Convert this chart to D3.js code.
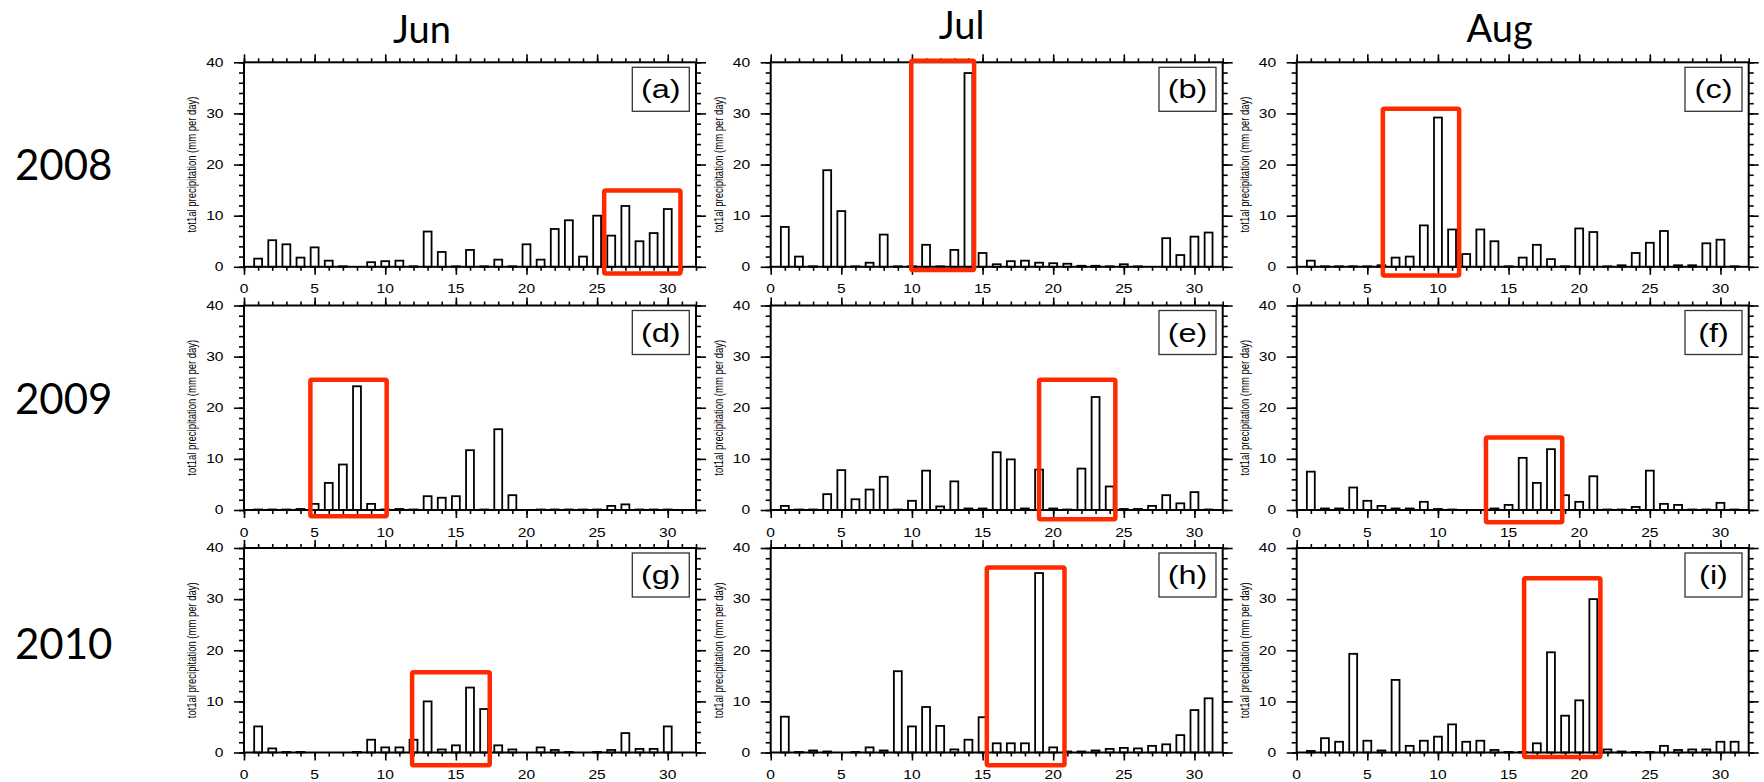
<!DOCTYPE html>
<html>
<head>
<meta charset="utf-8">
<script src="https://cdn.jsdelivr.net/npm/d3@7"></script>
<style>
  body { margin: 0; background: #fff; }
  .tick line { stroke: #000; }
</style>
</head>
<body>
<script>
var svgWidth = 1764;
var svgHeight = 782;

// column / row labels
var months = ["Jun", "Jul", "Aug"];
var years = ["2008", "2009", "2010"];
var tags = ["(a)", "(b)", "(c)", "(d)", "(e)", "(f)", "(g)", "(h)", "(i)"];
var yTitle = "tot1al precipitation (mm per day)";
var xTicks = [0, 5, 10, 15, 20, 25, 30];
var yTicks = [0, 10, 20, 30, 40];

// daily precipitation, mm per day (day 1 first)
var jun2008 = [1.6,5.2,4.4,1.8,3.8,1.2,0.1,0,0.9,1.1,1.2,0.1,6.9,2.9,0.1,3.3,0.1,1.4,0.1,4.4,1.4,7.4,9.1,2.0,10.0,6.1,11.9,5.0,6.6,11.3];
var jul2008 = [7.8,2.0,0.1,18.9,10.9,0.1,0.8,6.3,0.1,0.1,4.3,0.1,3.3,37.9,2.7,0.5,1.1,1.2,0.8,0.7,0.6,0.2,0.2,0.1,0.5,0.1,0,5.6,2.3,5.9,6.7];
var aug2008 = [1.2,0.1,0.1,0.1,0.1,0.3,1.8,2.0,8.1,29.2,7.3,2.5,7.3,5.0,0.1,1.8,4.3,1.5,0.1,7.5,6.8,0.1,0.3,2.7,4.7,7.0,0.3,0.3,4.6,5.3,0.1];
var jun2009 = [0.1,0.1,0.1,0.2,1.2,5.3,8.9,24.2,1.2,0.1,0.2,0.1,2.7,2.4,2.7,11.7,0.1,15.8,2.9,0,0.1,0.1,0.1,0.1,0.1,0.8,1.1,0.1,0.1,0.1];
var jul2009 = [0.8,0.1,0.1,3.1,7.8,2.1,4.0,6.5,0.1,1.8,7.7,0.7,5.6,0.3,0.3,11.3,9.9,0.3,7.9,0.3,0.1,8.1,22.1,4.6,0.2,0.2,0.8,2.9,1.3,3.5,0.1];
var aug2009 = [7.5,0.3,0.3,4.4,1.8,0.8,0.3,0.3,1.6,0.2,0.1,0,0,0.3,1.0,10.2,5.3,11.9,2.9,1.6,6.6,0.1,0.1,0.6,7.7,1.2,1.0,0.1,0.1,1.4,0.1];
var jun2010 = [5.1,0.8,0.1,0.1,0,0,0,0.1,2.5,1.0,1.0,2.5,10.0,0.6,1.4,12.7,8.5,1.4,0.6,0,1.0,0.5,0.1,0,0.1,0.5,3.8,0.7,0.7,5.1];
var jul2010 = [7.0,0.1,0.4,0.2,0,0.1,1.0,0.4,15.9,5.1,8.9,5.2,0.6,2.5,6.9,1.8,1.8,1.8,35.1,1.0,0.2,0.2,0.4,0.7,0.9,0.8,1.3,1.6,3.4,8.3,10.6];
var aug2010 = [0.3,2.8,2.1,19.3,2.3,0.4,14.2,1.3,2.3,3.1,5.5,2.1,2.3,0.5,0.1,0.1,1.8,19.6,7.2,10.2,30.0,0.6,0.2,0.1,0.1,1.3,0.5,0.6,0.6,2.1,2.1];

var panels = [jun2008, jul2008, aug2008, jun2009, jul2009, aug2009, jun2010, jul2010, aug2010];

// red highlight boxes: [day from, day to, value from, value to]
var highlights = [
    [25.5, 30.9, -1.3, 14.9],
    [9.95, 14.4, -0.65, 40.3],
    [6.1, 11.5, -1.7, 30.9],
    [4.7, 10.1, -1.2, 25.5],
    [19.0, 24.4, -1.8, 25.5],
    [13.4, 18.8, -2.4, 14.2],
    [11.9, 17.4, -2.5, 15.7],
    [15.3, 20.8, -2.5, 36.2],
    [16.1, 21.5, -0.9, 34.1]
];

// layout
var colLeft = [244, 770.7, 1296.7];
var rowTop = [62.3, 305.5, 548];
var plotW = 452;
var plotH = 204.5;
var headerDx = [178, 191, 203];
var headerY = [43, 39, 42];
var yearY = [180, 414, 659];
var stretch = "scale(1.3,1)";

var svg = d3.select("body").append("svg")
    .attr("width", svgWidth)
    .attr("height", svgHeight);

var x = d3.scaleLinear().domain([0, 32]).range([0, plotW]);
var y = d3.scaleLinear().domain([0, 40]).range([plotH, 0]);
var barW = x(0.56) - x(0);

// month headers and year labels
svg.selectAll(".month")
    .data(months)
    .join("text")
    .attr("class", "month")
    .attr("x", (d, i) => colLeft[i] + headerDx[i])
    .attr("y", (d, i) => headerY[i])
    .attr("text-anchor", "middle")
    .style("font-family", "Lato, 'Open Sans', sans-serif")
    .style("font-size", "38px")
    .text(d => d);

svg.selectAll(".year")
    .data(years)
    .join("text")
    .attr("class", "year")
    .attr("x", 15)
    .attr("y", (d, i) => yearY[i])
    .style("font-family", "Lato, 'Open Sans', sans-serif")
    .style("font-size", "42px")
    .text(d => d);

panels.forEach((vals, p) => {
    var col = p % 3;
    var row = Math.floor(p / 3);
    var data = vals.map((v, i) => ({day: i + 1, value: v}));

    var g = svg.append("g")
        .attr("transform", `translate(${colLeft[col]}, ${rowTop[row]})`);

    // minor + major ticks on all four sides, pointing outward
    var minorX = d3.range(0, 33);
    var minorY = d3.range(0, 41, 2);
    g.append("g").attr("transform", `translate(0, ${plotH})`)
        .call(d3.axisBottom(x).tickValues(minorX).tickSize(4).tickFormat(""));
    g.append("g").attr("transform", `translate(0, ${plotH})`)
        .call(d3.axisBottom(x).tickValues(xTicks).tickSize(8).tickFormat(""));
    g.append("g")
        .call(d3.axisTop(x).tickValues(minorX).tickSize(4).tickFormat(""));
    g.append("g")
        .call(d3.axisTop(x).tickValues(xTicks).tickSize(8).tickFormat(""));
    g.append("g")
        .call(d3.axisLeft(y).tickValues(minorY).tickSize(5).tickFormat(""));
    g.append("g")
        .call(d3.axisLeft(y).tickValues(yTicks).tickSize(10).tickFormat(""));
    g.append("g").attr("transform", `translate(${plotW}, 0)`)
        .call(d3.axisRight(y).tickValues(minorY).tickSize(5).tickFormat(""));
    g.append("g").attr("transform", `translate(${plotW}, 0)`)
        .call(d3.axisRight(y).tickValues(yTicks).tickSize(10).tickFormat(""));
    g.selectAll(".domain").remove();
    g.selectAll(".tick line").attr("stroke-width", 1.6);

    // tick labels
    g.selectAll(".xl")
        .data(xTicks)
        .join("text")
        .attr("class", "xl")
        .attr("transform", d => `translate(${x(d)}, ${plotH + 26.5}) ${stretch}`)
        .attr("text-anchor", "middle")
        .style("font-family", "'Liberation Sans', Arial, sans-serif")
        .style("font-size", "12px")
        .text(d => d);

    g.selectAll(".yl")
        .data(yTicks)
        .join("text")
        .attr("class", "yl")
        .attr("transform", d => `translate(-20.5, ${y(d) + 4.3}) ${stretch}`)
        .attr("text-anchor", "end")
        .style("font-family", "'Liberation Sans', Arial, sans-serif")
        .style("font-size", "12px")
        .text(d => d);

    g.append("text")
        .attr("transform", `translate(-51, ${plotH / 2}) ${stretch} rotate(-90)`)
        .attr("text-anchor", "middle")
        .attr("dominant-baseline", "middle")
        .style("font-family", "'Liberation Sans', Arial, sans-serif")
        .style("font-size", "9.5px")
        .text(yTitle);

    // bars
    g.selectAll(".bar")
        .data(data)
        .join("rect")
        .attr("class", "bar")
        .attr("x", d => x(d.day) - barW / 2)
        .attr("y", d => y(d.value))
        .attr("width", barW)
        .attr("height", d => y(0) - y(d.value))
        .attr("fill", "#fff")
        .attr("stroke", "#000")
        .attr("stroke-width", 1.8);

    // frame
    g.append("rect")
        .attr("width", plotW)
        .attr("height", plotH)
        .attr("fill", "none")
        .attr("stroke", "#000")
        .attr("stroke-width", 2);

    // panel tag
    var tagW = 57, tagH = 44;
    g.append("rect")
        .attr("x", plotW - 6.7 - tagW)
        .attr("y", 5)
        .attr("width", tagW)
        .attr("height", tagH)
        .attr("fill", "#fff")
        .attr("stroke", "#333")
        .attr("stroke-width", 1.3);
    g.append("text")
        .attr("transform", `translate(${plotW - 6.7 - tagW / 2}, ${5 + 31}) ${stretch}`)
        .attr("text-anchor", "middle")
        .style("font-family", "'Liberation Sans', Arial, sans-serif")
        .style("font-size", "25px")
        .text(tags[p]);

    // red highlight
    var h = highlights[p];
    g.append("rect")
        .attr("x", x(h[0]))
        .attr("y", y(h[3]))
        .attr("width", x(h[1]) - x(h[0]))
        .attr("height", y(h[2]) - y(h[3]))
        .attr("rx", 1.5)
        .attr("fill", "none")
        .attr("stroke", "#ff2a00")
        .attr("stroke-width", 4.5);
});
</script>
</body>
</html>
